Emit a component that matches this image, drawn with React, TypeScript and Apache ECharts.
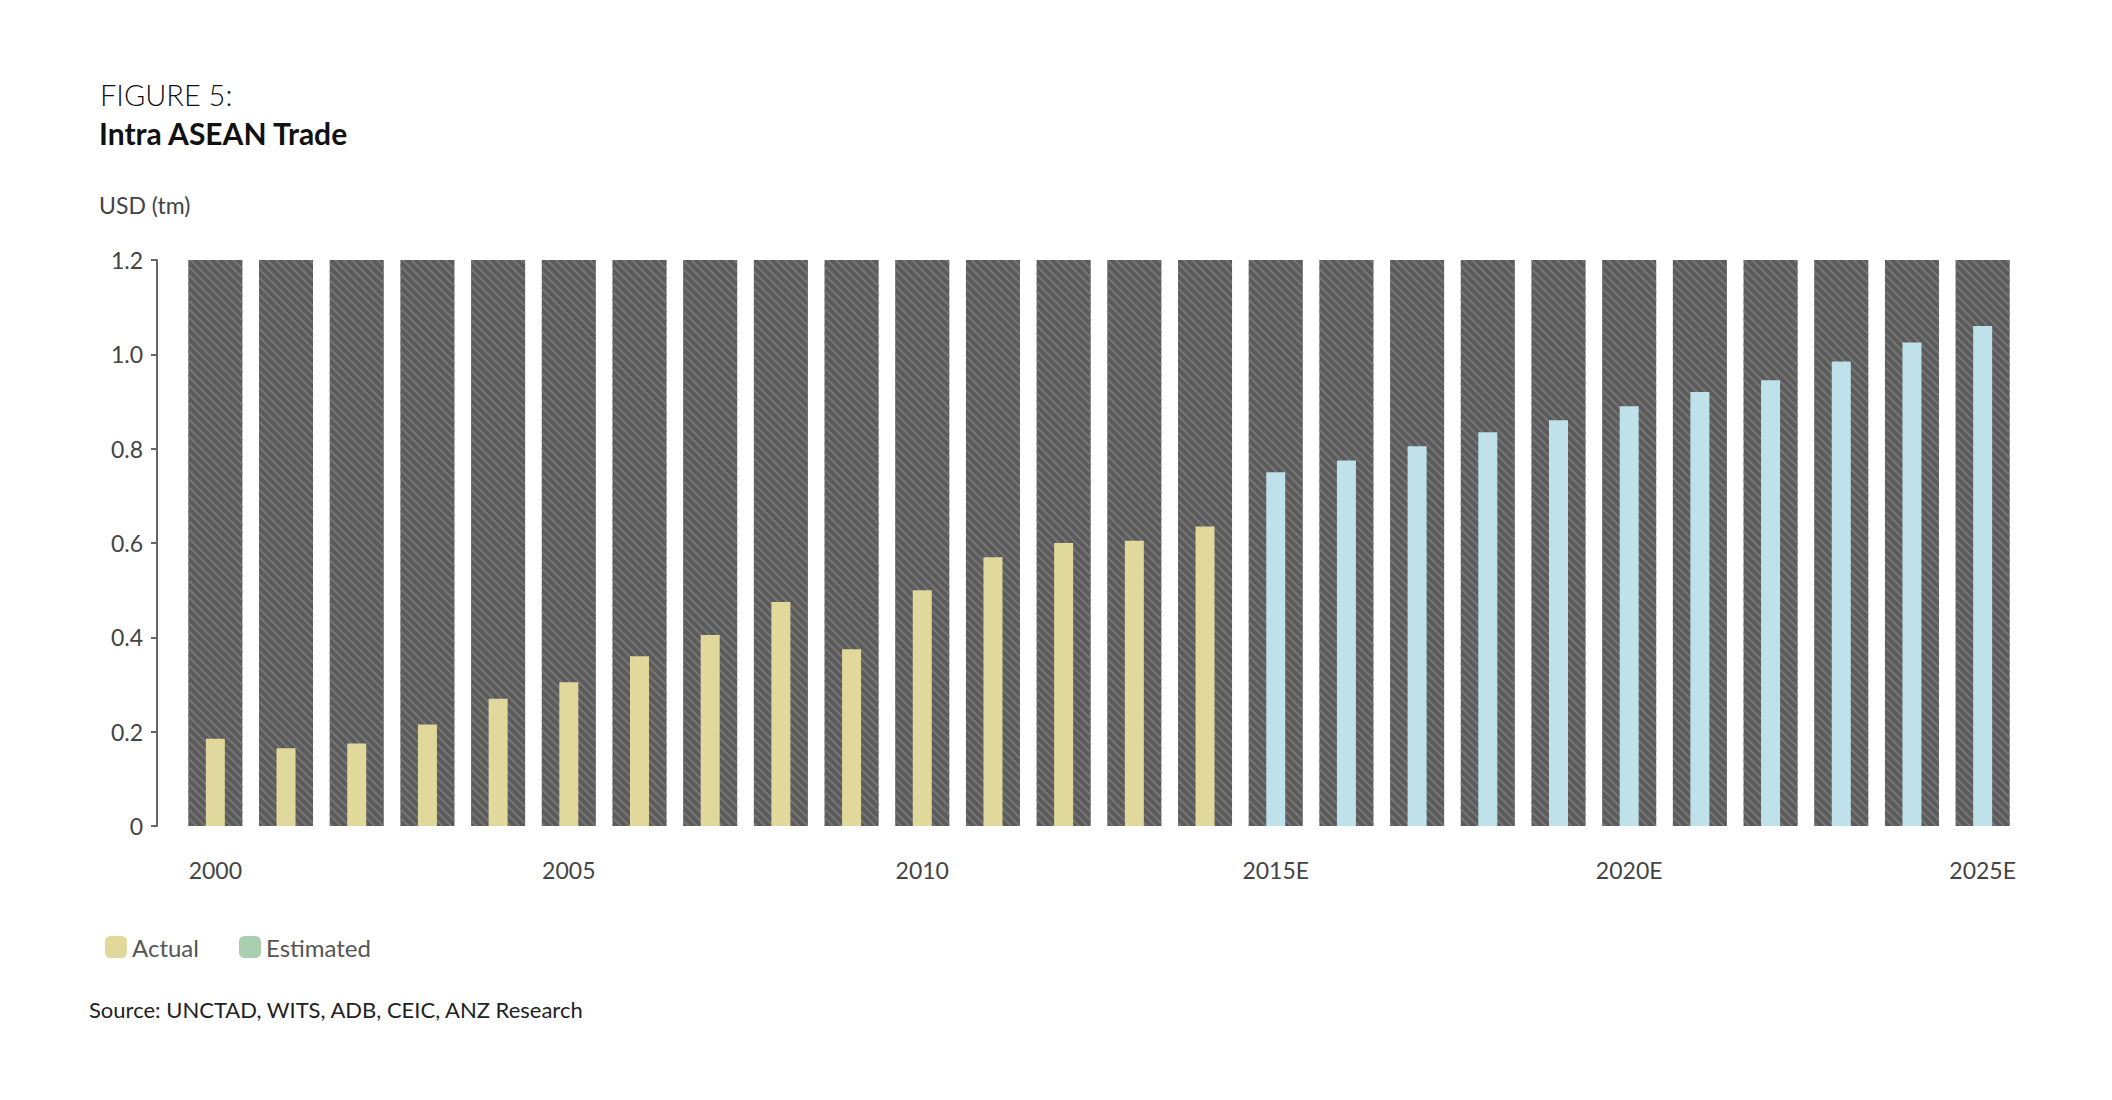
import { useEffect, useRef } from 'react';
import * as echarts from 'echarts';

const years = [
  '2000', '2001', '2002', '2003', '2004', '2005', '2006', '2007', '2008', '2009',
  '2010', '2011', '2012', '2013', '2014', '2015E', '2016E', '2017E', '2018E', '2019E',
  '2020E', '2021E', '2022E', '2023E', '2024E', '2025E',
];
const actual = [
  0.185, 0.165, 0.175, 0.215, 0.27, 0.305, 0.36, 0.405, 0.475, 0.375,
  0.5, 0.57, 0.6, 0.605, 0.635,
];
const estimated = [0.75, 0.775, 0.805, 0.835, 0.86, 0.89, 0.92, 0.945, 0.985, 1.025, 1.06];
const yTicks = [0, 0.2, 0.4, 0.6, 0.8, 1.0, 1.2];

const FONT = 'Lato, "Noto Sans", sans-serif';

export default function App() {
  const ref = useRef<HTMLDivElement>(null);

  useEffect(() => {
    document.body.style.margin = '0';
    if (!ref.current) return;
    const chart = echarts.init(ref.current, null, { renderer: 'svg' });

    const actualData = years.map((_, i) => (i < actual.length ? actual[i] : null));
    const estData = years.map((_, i) => (i >= actual.length ? estimated[i - actual.length] : null));
    const bgData = years.map(() => yTicks[yTicks.length - 1]);

    chart.setOption({
      animation: false,
      textStyle: { fontFamily: FONT },
      graphic: [
        { type: 'text', left: 100, top: 80, style: { text: 'FIGURE 5:', fontSize: 29, fontWeight: 300, fill: '#111', fontFamily: FONT } },
        { type: 'text', left: 99, top: 118, style: { text: 'Intra ASEAN Trade', fontSize: 30, fontWeight: 'bold', fill: '#111', fontFamily: FONT } },
        { type: 'text', left: 99, top: 193, style: { text: 'USD (tm)', fontSize: 23, fill: '#444', fontFamily: FONT } },
        { type: 'text', left: 89, top: 998, style: { text: 'Source: UNCTAD, WITS, ADB, CEIC, ANZ Research', fontSize: 22, fill: '#222', fontFamily: FONT } },
      ],
      legend: {
        left: 100,
        top: 930,
        itemWidth: 22,
        itemHeight: 22,
        itemGap: 40,
        textStyle: { fontSize: 24, color: '#555', fontFamily: FONT },
        data: [
          { name: 'Actual', itemStyle: { color: '#e0d99b' } },
          { name: 'Estimated', itemStyle: { color: '#a9cfb0' } },
        ],
      },
      grid: { left: 180, top: 260, width: 1838, height: 566 },
      xAxis: [
        {
          type: 'category',
          data: years,
          axisLine: { show: false },
          axisTick: { show: false },
          axisLabel: {
            interval: 4,
            margin: 32,
            fontSize: 23,
            color: '#444',
            fontFamily: FONT,
          },
        },
        { type: 'category', data: years, show: false },
      ],
      yAxis: {
        type: 'value',
        min: 0,
        max: 1.2,
        interval: 0.2,
        offset: 23,
        splitLine: { show: false },
        axisLine: { show: true, lineStyle: { color: '#666', width: 2 } },
        axisTick: { show: true, length: 6, lineStyle: { color: '#666', width: 2 } },
        axisLabel: {
          fontSize: 23,
          color: '#444',
          margin: 14,
          fontFamily: FONT,
          formatter: (v: number) => (v === 0 ? '0' : v.toFixed(1)),
        },
      },
      series: [
        {
          name: 'bg',
          type: 'bar',
          xAxisIndex: 1,
          data: bgData,
          barWidth: 54,
          silent: true,
          itemStyle: {
            color: '#5b5b5b',
            decal: {
              symbol: 'rect',
              symbolSize: 1,
              dashArrayX: [1, 0],
              dashArrayY: [2, 4],
              rotation: Math.PI / 4,
              color: '#767676',
            },
          },
          z: 1,
        },
        {
          name: 'Actual',
          type: 'bar',
          data: actualData,
          barWidth: 19,
          barGap: '-100%',
          itemStyle: { color: '#e0d99b' },
          z: 3,
        },
        {
          name: 'Estimated',
          type: 'bar',
          data: estData,
          barWidth: 19,
          barGap: '-100%',
          itemStyle: { color: '#bfe2ea' },
          z: 3,
        },
      ],
    });

    return () => chart.dispose();
  }, []);

  return <div ref={ref} style={{ width: 2112, height: 1100 }} />;
}
